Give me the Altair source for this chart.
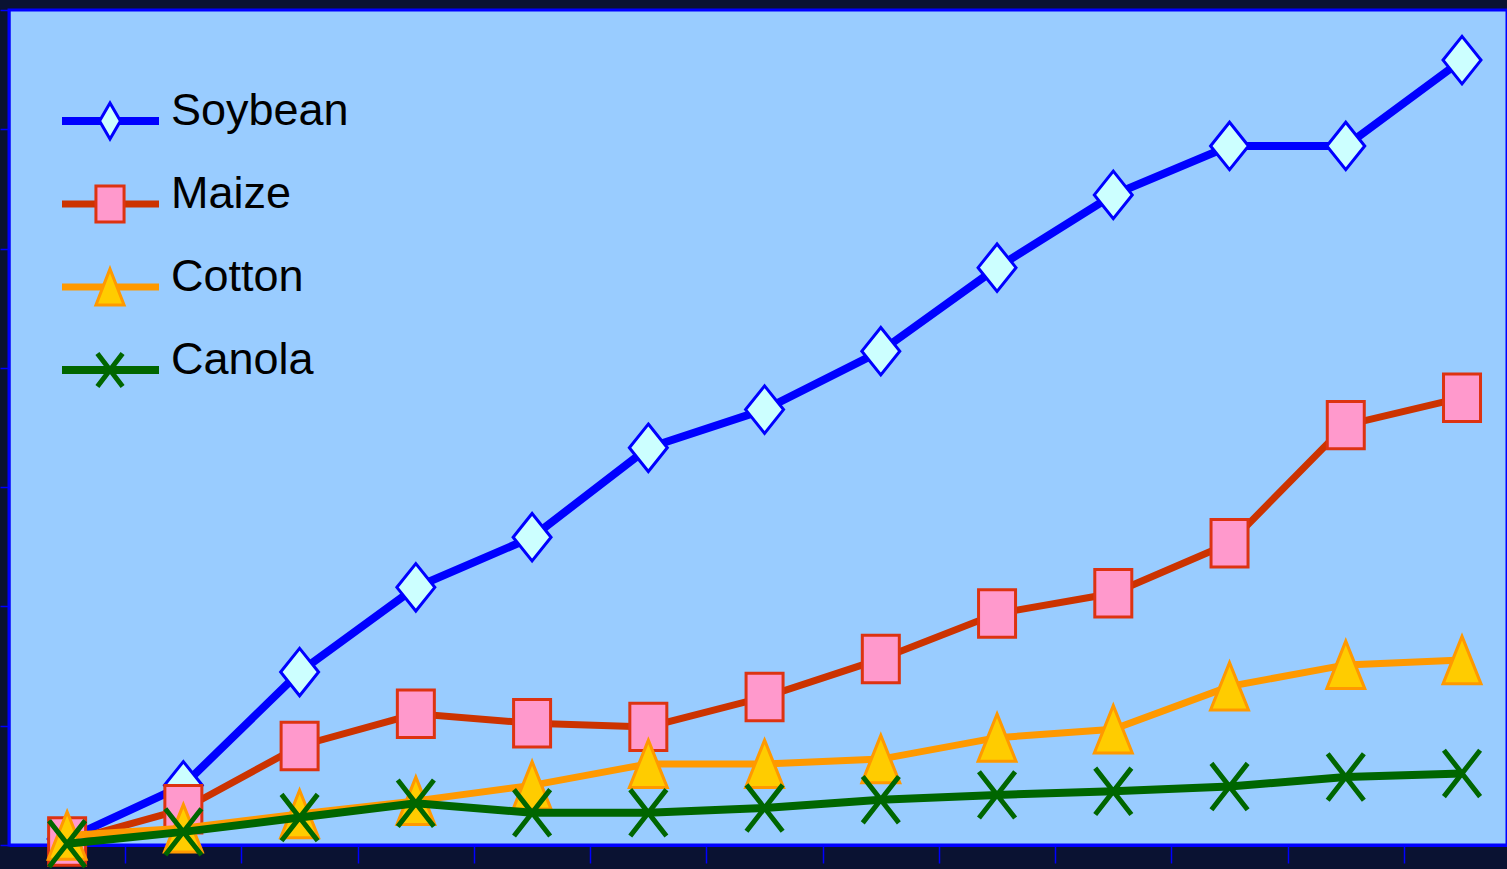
import altair as alt
import pandas as pd

years = list(range(1996, 2009))
crops = ["Soybean", "Maize", "Cotton", "Canola"]
soybean = [0.5, 5.0, 14.5, 21.6, 25.8, 33.3, 36.5, 41.4, 48.4, 54.5, 58.6, 58.6, 65.8]
maize = [0.3, 3.0, 8.3, 11.0, 10.2, 9.9, 12.4, 15.6, 19.4, 21.1, 25.3, 35.2, 37.5]
cotton = [0.8, 1.4, 2.6, 3.7, 5.0, 6.8, 6.8, 7.2, 9.0, 9.7, 13.3, 15.1, 15.5]
canola = [0.1, 1.1, 2.3, 3.5, 2.7, 2.7, 3.1, 3.8, 4.2, 4.5, 4.9, 5.7, 6.0]
x_ticks = [y + 0.5 for y in range(1996, 2008)]
y_ticks = [0, 10, 20, 30, 40, 50, 60, 70]

series = {"Soybean": soybean, "Maize": maize, "Cotton": cotton, "Canola": canola}
rows = []
for c in crops:
    for yr, v in zip(years, series[c]):
        rows.append({"year": yr, "crop": c, "value": v})
df = pd.DataFrame(rows)

styles = {
    "Soybean": dict(line="#0000FF", lw=8, fill="#CCFFFF", stroke="#0000FF", sw=3,
                    shape="M0,-1L0.8,0L0,1L-0.8,0Z",
                    lshape="M0,-1L0.58,0L0,1L-0.58,0Z", filled=True),
    "Maize": dict(line="#CC3300", lw=7, fill="#FF99CC", stroke="#DD3311", sw=3,
                  shape="M-0.78,-1H0.78V1H-0.78Z",
                  lshape="M-0.78,-1H0.78V1H-0.78Z", filled=True),
    "Cotton": dict(line="#FF9900", lw=7, fill="#FFCC00", stroke="#FF9900", sw=3,
                   shape="M0,-1L0.8,1L-0.8,1Z",
                   lshape="M0,-1L0.78,1L-0.78,1Z", filled=True),
    "Canola": dict(line="#006600", lw=8, fill="#006600", stroke="#006600", sw=5,
                   shape="M-0.78,-1L0.78,1M0.78,-1L-0.78,1",
                   lshape="M-0.76,-1L0.76,1M0.76,-1L-0.76,1", filled=False),
}

x_enc = alt.X("year:Q", scale=alt.Scale(domain=[1995.5, 2008.387], nice=False, zero=False),
              axis=alt.Axis(values=x_ticks, labels=False, title=None, grid=False,
                            domain=True, domainColor="#0000FF", domainWidth=3,
                            tickColor="#0000FF", tickWidth=1.5, tickSize=18))
y_enc = alt.Y("value:Q", scale=alt.Scale(domain=[0, 70], nice=False),
              axis=alt.Axis(values=y_ticks, labels=False, title=None, grid=False,
                            domain=True, domainColor="#0000FF", domainWidth=2,
                            tickColor="#0000FF", tickWidth=1.5, tickSize=9))

base = alt.Chart(df)
layers = []
for c in crops:
    s = styles[c]
    sub = base.transform_filter(alt.datum.crop == c)
    layers.append(sub.mark_line(color=s["line"], strokeWidth=s["lw"]).encode(x=x_enc, y=y_enc))
    if s["filled"]:
        pt = sub.mark_point(shape=s["shape"], size=2250, filled=True, fill=s["fill"],
                            stroke=s["stroke"], strokeWidth=s["sw"], opacity=1)
    else:
        pt = sub.mark_point(shape=s["shape"], size=2150, filled=False,
                            stroke=s["stroke"], strokeWidth=s["sw"], opacity=1)
    layers.append(pt.encode(x=x_enc, y=y_enc))

# manual legend (layout positions in pixels of the plot area)
legend_y = [111, 194, 277, 360]
leg_x0, leg_x1, leg_mx, leg_tx = 53, 150, 101, 162
for c, ly in zip(crops, legend_y):
    s = styles[c]
    ldf = pd.DataFrame({"crop": [c]})
    lb = alt.Chart(ldf)
    layers.append(lb.mark_rule(color=s["line"], strokeWidth=s["lw"]).encode(
        x=alt.value(leg_x0), x2=alt.value(leg_x1), y=alt.value(ly)))
    if s["filled"]:
        lp = lb.mark_point(shape=s["lshape"], size=1300, filled=True, fill=s["fill"],
                           stroke=s["stroke"], strokeWidth=s["sw"], opacity=1)
    else:
        lp = lb.mark_point(shape=s["lshape"], size=1100, filled=False,
                           stroke=s["stroke"], strokeWidth=s["sw"], opacity=1)
    layers.append(lp.encode(x=alt.value(leg_mx), y=alt.value(ly)))
    layers.append(lb.mark_text(align="left", baseline="alphabetic", fontSize=45,
                               font="Liberation Sans", color="#000000").encode(
        x=alt.value(leg_tx), y=alt.value(ly + 4), text="crop:N"))

chart = alt.layer(*layers).properties(
    width=1498, height=835,
    autosize=alt.AutoSizeParams(type="none"),
    padding={"left": 9, "top": 10, "right": 0, "bottom": 24},
    background="#0a1232",
).configure_view(
    fill="#99CCFF", stroke="#0000FF", strokeWidth=3
)

chart.save("out.html", embed_options={"renderer": "svg", "actions": False})
